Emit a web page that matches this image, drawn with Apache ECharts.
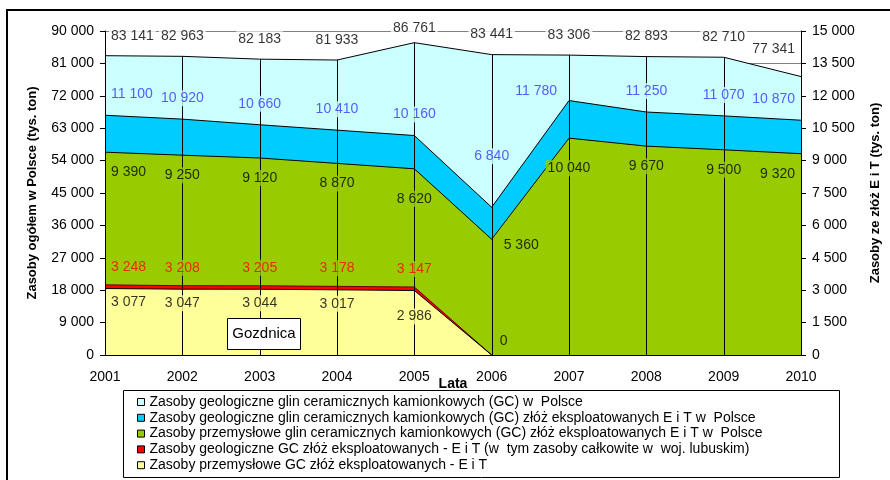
<!DOCTYPE html>
<html><head><meta charset="utf-8">
<script src="https://cdn.jsdelivr.net/npm/echarts@6/dist/echarts.min.js"></script>
<style>html,body{margin:0;padding:0;background:#fff}#c{width:890px;height:480px}</style>
</head><body><div id="c"></div>
<script>
// ---- data ----
const years = ['2001','2002','2003','2004','2005','2006','2007','2008','2009','2010'];
const totalPL = [83141,82963,82183,81933,86761,83441,83306,82893,82710,77341];
const geoET   = [11100,10920,10660,10410,10160,6840,11780,11250,11070,10870];
const indET   = [9390,9250,9120,8870,8620,5360,10040,9670,9500,9320];
const geoGozd = [3248,3208,3205,3178,3147,0,null,null,null,null];
const indGozd = [3077,3047,3044,3017,2986,0,null,null,null,null];
const names = [
  'Zasoby geologiczne glin ceramicznych kamionkowych (GC) w  Polsce',
  'Zasoby geologiczne glin ceramicznych kamionkowych (GC) złóż eksploatowanych E i T w  Polsce',
  'Zasoby przemysłowe glin ceramicznych kamionkowych (GC) złóż eksploatowanych E i T w  Polsce',
  'Zasoby geologiczne GC złóż eksploatowanych - E i T (w  tym zasoby całkowite w  woj. lubuskim)',
  'Zasoby przemysłowe GC złóż eksploatowanych - E i T'
];
const colors = ['#CCFFFF','#00CCFF','#99CC00','#FF0000','#FFFF99'];
const FONT = 'Liberation Sans, Arial, sans-serif';
const fmt = n => String(n).replace(/\B(?=(\d{3})+(?!\d))/g, ' ');

function area(i, vals, yIdx, lineColor) {
  return {
    name: names[i], type: 'line', yAxisIndex: yIdx, data: vals, symbol: 'none',
    itemStyle: {color: colors[i]},
    lineStyle: {color: lineColor || '#000', width: 1},
    areaStyle: {color: colors[i], opacity: 1},
    silent: true, z: 2
  };
}

// label tweaks: [dx, dy, align, bg]
function labels(vals, yIdx, color, bg, dy, tweaks, skipZero) {
  const last = vals.length - 1;
  const data = [];
  vals.forEach((v, i) => {
    if (v == null) return;
    if (skipZero && v === 0) return;
    let dx = 0, d = dy, align = 'center', b = bg;
    if (i === 0) { dx = 4; align = 'left'; }
    if (i === last) { dx = -4; align = 'right'; }
    if (tweaks && tweaks[i]) { [dx, d, align] = tweaks[i]; if (tweaks[i][3]) b = tweaks[i][3]; }
    data.push({value: [years[i], v], label: {offset: [dx, d], align: align, backgroundColor: b}});
  });
  return {
    type: 'scatter', yAxisIndex: yIdx, z: 4, silent: true, symbolSize: 1,
    itemStyle: {color: 'rgba(0,0,0,0)'},
    label: {show: true, position: 'inside', color: color, backgroundColor: bg,
      padding: [1, 2], fontSize: 14, fontFamily: FONT,
      formatter: p => fmt(p.value[1])},
    data: data
  };
}

const chart = echarts.init(document.getElementById('c'));
chart.setOption({
  animation: false,
  textStyle: {fontFamily: FONT},
  grid: {left: 105, right: 83, top: 31, bottom: 125},
  legend: {
    orient: 'vertical', left: 137, top: 395, height: 90, padding: 0,
    itemWidth: 7, itemHeight: 7, itemGap: 1.8,
    icon: 'rect', data: names,
    itemStyle: {borderColor: '#000', borderWidth: 1},
    textStyle: {fontSize: 14, color: '#000', fontFamily: FONT, lineHeight: 14}
  },
  xAxis: {
    type: 'category', data: years, boundaryGap: false,
    axisLine: {lineStyle: {color: '#000', width: 1}},
    axisTick: {show: false},
    axisLabel: {color: '#000', fontSize: 14, margin: 15},
    splitLine: {show: false},
    name: 'Lata', nameLocation: 'middle', nameGap: 22, nameMoveOverlap: false,
    nameTextStyle: {fontWeight: 'bold', fontSize: 14, color: '#000'},
    z: 3
  },
  yAxis: [{
    type: 'value', min: 0, max: 90000, interval: 9000,
    axisLine: {show: true, lineStyle: {color: '#000'}},
    axisTick: {show: true, length: 5, lineStyle: {color: '#000'}},
    axisLabel: {color: '#000', fontSize: 14, margin: 11, formatter: fmt},
    splitLine: {show: true, lineStyle: {color: '#808080', width: 1}},
    name: 'Zasoby ogółem w Polsce (tys. ton)', nameLocation: 'middle', nameGap: 66, nameRotate: 90,
    nameMoveOverlap: false,
    nameTextStyle: {fontWeight: 'bold', fontSize: 13, color: '#000'}
  }, {
    type: 'value', min: 0, max: 15000, interval: 1500, position: 'right',
    axisLine: {show: true, lineStyle: {color: '#000'}},
    axisTick: {show: true, length: 5, lineStyle: {color: '#000'}},
    axisLabel: {color: '#000', fontSize: 14, margin: 11, formatter: fmt},
    splitLine: {show: false},
    name: 'Zasoby ze złóż E i T (tys. ton)', nameLocation: 'middle', nameGap: 68, nameRotate: 90,
    nameMoveOverlap: false,
    nameTextStyle: {fontWeight: 'bold', fontSize: 13, color: '#000'}
  }],
  series: [
    area(0, totalPL, 0),
    area(1, geoET, 1),
    area(2, indET, 1),
    area(3, geoGozd, 1, '#600'),
    area(4, indGozd, 1),
    {
      type: 'custom', z: 3, silent: true, yAxisIndex: 0,
      data: totalPL.map((v, i) => [i, v]),
      renderItem: (p, api) => {
        const a = api.coord([api.value(0), api.value(1)]);
        const b = api.coord([api.value(0), 0]);
        const x = Math.round(a[0]) + 0.5;
        return {type: 'line', shape: {x1: x, y1: a[1], x2: x, y2: b[1]},
          style: {stroke: '#000', lineWidth: 1}};
      }
    },
    labels(totalPL, 0, '#000', '#fff', -20, {4: [0, -15, 'center'], 9: [-4, -27, 'right']}, false),
    labels(geoET, 1, '#3333FF', '#CCFFFF', -21, {5: [0, -51, 'center'], 6: [-10, -9, 'right']}, false),
    labels(indET, 1, '#000', '#99CC00', 20, {4: [0, 30, 'center'], 5: [10, 6, 'left'], 6: [0, 30, 'center']}, false),
    labels(geoGozd, 1, '#FF0000', '#99CC00', -18, null, true),
    labels(indGozd, 1, '#000', '#FFFF99', 14, {4: [0, 26, 'center'], 5: [6, -14, 'left', '#99CC00']}, false)
  ],
  graphic: [
    {type: 'rect', shape: {x: 7, y: 10, width: 900, height: 500},
      style: {fill: 'none', stroke: '#000', lineWidth: 2}, silent: true},
    {type: 'rect', shape: {x: 123.5, y: 390.5, width: 716, height: 87},
      style: {fill: 'none', stroke: '#000', lineWidth: 1}, silent: true},
    {type: 'rect', shape: {x: 227.5, y: 318.5, width: 73, height: 31},
      style: {fill: '#fff', stroke: '#000', lineWidth: 1}, z: 100, silent: true},
    {type: 'text', x: 264, y: 334, z: 101, silent: true,
      style: {text: 'Gozdnica', fontSize: 15, fontFamily: FONT, fill: '#000',
        textAlign: 'center', textVerticalAlign: 'middle'}}
  ]
});
</script>
</body></html>
